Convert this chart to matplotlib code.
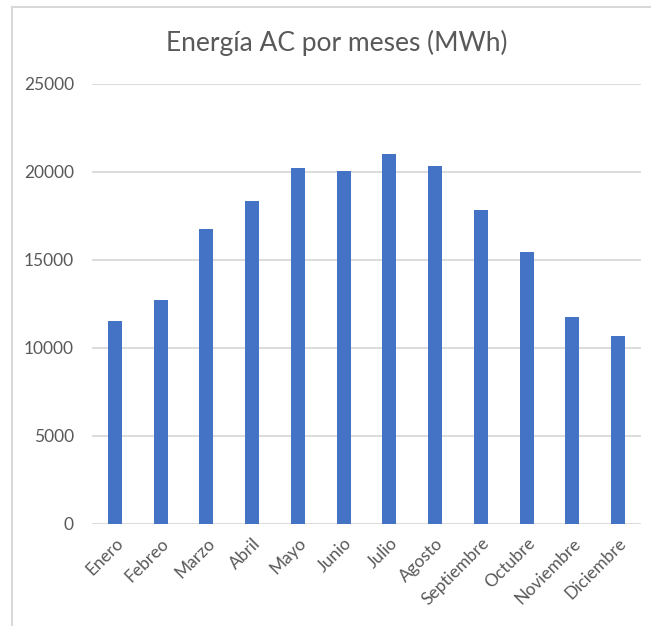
import matplotlib
matplotlib.use("Agg")
import matplotlib.pyplot as plt
from matplotlib.lines import Line2D

months = ["Enero", "Febreo", "Marzo", "Abril", "Mayo", "Junio", "Julio",
          "Agosto", "Septiembre", "Octubre", "Noviembre", "Diciembre"]
energy = [11560, 12720, 16740, 18350, 20250, 20080, 21050, 20360,
          17820, 15430, 11750, 10710]
yticks = [0, 5000, 10000, 15000, 20000, 25000]
title = "Energía AC por meses (MWh)"

plt.rcParams['font.family'] = ['Lato', 'DejaVu Sans']
W, H = 651, 626
fig = plt.figure(figsize=(W / 100, H / 100), dpi=100)
ax = fig.add_axes([92 / W, 1 - 524 / H, (641 - 92) / W, (524 - 84) / H])

x = range(len(months))
ax.bar(x, energy, width=0.31, color="#4472C4", zorder=3)
ax.set_xlim(-0.5, len(months) - 0.5)
ax.set_ylim(0, 25000)
ax.set_yticks(yticks)
ax.set_yticklabels([str(v) for v in yticks])
ax.set_xticks(list(x))
ax.set_xticklabels(months, rotation=45, ha="right", rotation_mode="anchor")
ax.tick_params(axis="both", length=0, colors="#595959", labelsize=12.5)
ax.tick_params(axis="y", pad=13)
ax.tick_params(axis="x", pad=8)
for s in ax.spines.values():
    s.set_visible(False)
ax.grid(axis="y", color="#d9d9d9", linewidth=1.3, zorder=0)
ax.set_axisbelow(True)

fig.text(337 / W, 1 - 43 / H, title, ha="center", va="center",
         fontsize=19, color="#595959")

# chart frame
fig.add_artist(Line2D([12 / W, 12 / W], [0, 1 - 7 / H], color="#d9d9d9",
                      linewidth=1.5, transform=fig.transFigure))
fig.add_artist(Line2D([12 / W, 1], [1 - 7 / H, 1 - 7 / H], color="#d9d9d9",
                      linewidth=1.5, transform=fig.transFigure))

fig.savefig("out.png", dpi=100)
